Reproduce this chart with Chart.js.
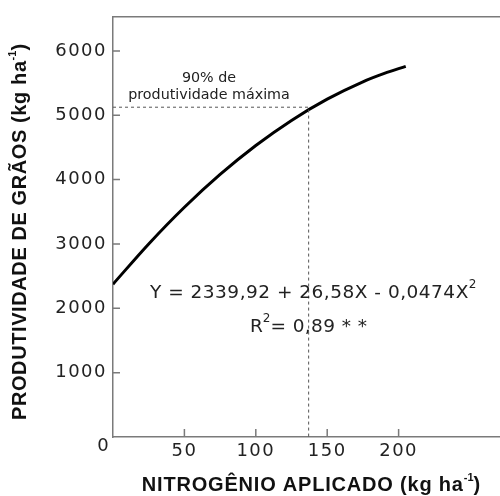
<!DOCTYPE html>
<html>
<head>
<meta charset="utf-8">
<script src="https://cdn.jsdelivr.net/npm/chart.js@4.4.1/dist/chart.umd.min.js"></script>
<style>
  html, body { margin: 0; padding: 0; background: #fff; }
  canvas { display: block; }
</style>
</head>
<body>
<canvas id="yieldChart" width="500" height="496"></canvas>
<script>
// values
const nitrogenX = [0, 25, 50, 75, 100, 125, 150, 175, 190, 205];
const yieldY = [2375, 3000, 3570, 4080, 4530, 4920, 5250, 5520, 5650, 5760];
const guideX = [0, 137, 137];
const guideY = [5125, 5125, 0];
const yTicks = [1000, 2000, 3000, 4000, 5000, 6000];
const xTicks = [50, 100, 150, 200];

const axisColor = "#7a7a7a";
const tickFont = "DejaVu Sans";
const titleFont = "Liberation Sans";

function toPoints(xs, ys) {
    return xs.map((x, i) => ({ x: x, y: ys[i] }));
}

// draws a line of text made of parts (normal + superscript), centred on cx
function drawParts(ctx, parts, cx, cy, align) {
    let total = 0;
    parts.forEach(p => {
        ctx.font = p.font;
        ctx.letterSpacing = p.ls || "0px";
        p.w = ctx.measureText(p.t).width;
        total += p.w;
    });
    let x = align === "left" ? cx : cx - total / 2;
    ctx.textAlign = "left";
    ctx.textBaseline = "middle";
    parts.forEach(p => {
        ctx.font = p.font;
        ctx.letterSpacing = p.ls || "0px";
        ctx.fillText(p.t, x, cy + (p.dy || 0));
        x += p.w;
    });
    ctx.letterSpacing = "0px";
}

const extras = {
    id: "extras",
    beforeDraw(chart) {
        chart.ctx.letterSpacing = "1.5px";
    },
    afterDraw(chart) {
        const ctx = chart.ctx;
        const area = chart.chartArea;
        const xs = chart.scales.x;
        const ys = chart.scales.y;
        ctx.save();
        ctx.letterSpacing = "0px";

        // top border and inward ticks
        ctx.strokeStyle = axisColor;
        ctx.lineWidth = 1.5;
        ctx.beginPath();
        ctx.moveTo(area.left, area.top);
        ctx.lineTo(area.right, area.top);
        yTicks.forEach(v => {
            const py = ys.getPixelForValue(v);
            ctx.moveTo(area.left, py);
            ctx.lineTo(area.left + 7, py);
        });
        xTicks.forEach(v => {
            const px = xs.getPixelForValue(v);
            ctx.moveTo(px, area.bottom);
            ctx.lineTo(px, area.bottom - 8);
        });
        ctx.stroke();

        ctx.fillStyle = "#222";
        // origin label
        drawParts(ctx, [{ t: "0", font: "18px " + tickFont }], 103, 446);

        // annotations
        const small = "14.3px " + tickFont;
        drawParts(ctx, [{ t: "90% de", font: small }], 209, 78);
        drawParts(ctx, [{ t: "produtividade máxima", font: small }], 209, 95);

        const eq = "18.5px " + tickFont;
        const sup = "12px " + tickFont;
        drawParts(ctx, [
            { t: "Y = 2339,92 + 26,58X - 0,0474X", font: eq, ls: "0.5px" },
            { t: "2", font: sup, dy: -8 }
        ], 150, 293, "left");
        drawParts(ctx, [
            { t: "R", font: eq },
            { t: "2", font: sup, dy: -8 },
            { t: "= 0,89 * *", font: eq, ls: "0.4px" }
        ], 250, 327, "left");

        // axis titles
        ctx.fillStyle = "#111";
        const tb = "bold 20px " + titleFont;
        const ts = "bold 11px " + titleFont;
        drawParts(ctx, [
            { t: "NITROGÊNIO APLICADO (kg ha", font: tb, ls: "0.8px" },
            { t: "-1", font: ts, dy: -7 },
            { t: ")", font: tb }
        ], 311, 485);

        ctx.translate(20, 232);
        ctx.rotate(-Math.PI / 2);
        drawParts(ctx, [
            { t: "PRODUTIVIDADE DE GRÃOS (kg ha", font: tb, ls: "0.6px" },
            { t: "-1", font: ts, dy: -7 },
            { t: ")", font: tb }
        ], 0, 0);
        ctx.restore();
    }
};

new Chart(document.getElementById("yieldChart"), {
    type: "scatter",
    data: {
        datasets: [
            {
                data: toPoints(guideX, guideY),
                showLine: true,
                borderColor: "#555",
                borderWidth: 1,
                borderDash: [3, 3],
                pointRadius: 0,
                tension: 0
            },
            {
                data: toPoints(nitrogenX, yieldY),
                showLine: true,
                borderColor: "#000",
                borderWidth: 3,
                pointRadius: 0,
                cubicInterpolationMode: "monotone"
            }
        ]
    },
    options: {
        responsive: false,
        animation: false,
        layout: { padding: { top: 14, right: 0, left: 0, bottom: 0 } },
        plugins: {
            legend: { display: false },
            tooltip: { enabled: false }
        },
        scales: {
            x: {
                type: "linear",
                min: 0,
                max: 271,
                afterBuildTicks: s => { s.ticks = xTicks.map(v => ({ value: v })); },
                afterFit: s => { s.height = 59; },
                grid: { drawOnChartArea: false, drawTicks: false },
                border: { display: true, color: axisColor, width: 1.5 },
                ticks: {
                    autoSkip: false,
                    maxRotation: 0,
                    padding: 4,
                    color: "#222",
                    font: { family: tickFont, size: 18 },
                    callback: v => String(v)
                }
            },
            y: {
                type: "linear",
                min: 0,
                max: 6530,
                afterBuildTicks: s => { s.ticks = yTicks.map(v => ({ value: v })); },
                afterFit: s => { s.width = 113; },
                grid: { drawOnChartArea: false, drawTicks: false },
                border: { display: true, color: axisColor, width: 1.5 },
                ticks: {
                    autoSkip: false,
                    padding: 6,
                    color: "#222",
                    font: { family: tickFont, size: 18 },
                    callback: v => String(v)
                }
            }
        }
    },
    plugins: [extras]
});
</script>
</body>
</html>
